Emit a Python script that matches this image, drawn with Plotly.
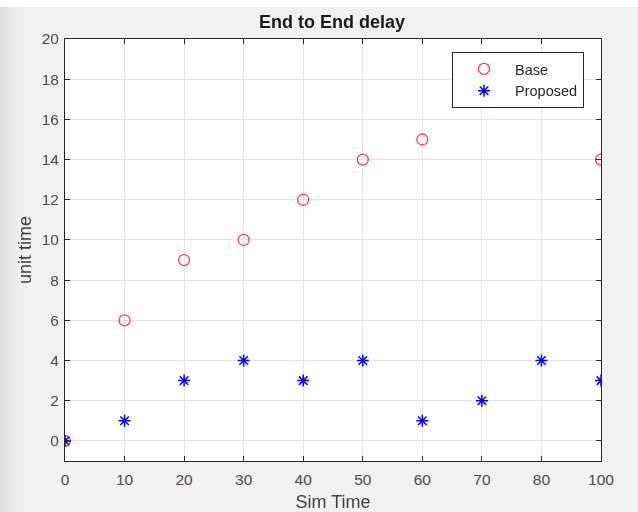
import plotly.graph_objects as go

# ---- data ----
sim_time = ["0", "10", "20", "30", "40", "50", "60", "70", "80", "100"]
base = [0, 6, 9, 10, 12, 14, 15, 17, 18, 14]
proposed = [0, 1, 3, 4, 3, 4, 1, 2, 4, 3]
y_ticks = [0, 2, 4, 6, 8, 10, 12, 14, 16, 18, 20]

FONT = "Liberation Sans, Arial, Helvetica, sans-serif"
L, R, T, B = 65, 37, 39, 51
W, H = 638, 512
pw, ph = W - L - R, H - T - B

fig = go.Figure()
fig.add_trace(go.Scatter(
    x=sim_time, y=base, mode="markers", name="Base",
    marker=dict(symbol="circle-open", size=11, color="#ff0000",
                line=dict(width=1.3, color="#ff0000")),
    opacity=0.75,
))
fig.add_trace(go.Scatter(
    x=sim_time, y=proposed, mode="markers", name="Proposed",
    marker=dict(symbol="asterisk-open", size=10, color="#0000ff",
                line=dict(width=1.5, color="#0000ff")),
))

axis_common = dict(
    showline=True, linecolor="#262626", linewidth=1, mirror="ticks",
    ticks="inside", ticklen=5, tickcolor="#262626",
    showgrid=True, gridcolor="#e3e3e3", gridwidth=1,
    zeroline=False, automargin=False,
    tickfont=dict(family=FONT, size=15.5, color="#4a4a4a"),
)

fig.update_xaxes(type="category", categoryorder="array", categoryarray=sim_time,
                 range=[0, len(sim_time) - 1], ticklabelstandoff=4,
                 title=dict(text="Sim Time", font=dict(family=FONT, size=18, color="#404040"),
                            standoff=13),
                 **axis_common)
fig.update_yaxes(range=[-1, 20], tickvals=y_ticks, ticklabelstandoff=2,
                 title=dict(text="unit time", font=dict(family=FONT, size=18, color="#404040"),
                            standoff=5),
                 **axis_common)

def px_x(p):
    return (p - L) / pw

def px_y(p):
    return (H - B - p) / ph

shapes = []
# white strip at top
shapes.append(dict(type="rect", xref="paper", yref="paper",
                   x0=px_x(0), x1=px_x(W), y0=px_y(7), y1=px_y(0),
                   fillcolor="white", line=dict(width=0), layer="below"))
# left gradient
grays = ["#dcdcdc", "#e0e0e0", "#e4e4e4", "#e7e7e7", "#eaeaea", "#ececec", "#eeeeee", "#efefef"]
for i, g in enumerate(grays):
    shapes.append(dict(type="rect", xref="paper", yref="paper",
                       x0=px_x(i * 3), x1=px_x(i * 3 + 3), y0=px_y(H), y1=px_y(7),
                       fillcolor=g, line=dict(width=0), layer="below"))
fig.update_layout(shapes=shapes)

fig.update_layout(
    width=W, height=H,
    margin=dict(l=L, r=R, t=T, b=B, autoexpand=False),
    paper_bgcolor="#f0f0f0",
    plot_bgcolor="white",
    title=dict(text="<b>End to End delay</b>", x=px_x(332), xanchor="center",
               xref="paper", y=1 - 22 / H, yanchor="middle",
               font=dict(family=FONT, size=18, color="#1a1a1a")),
    legend=dict(x=px_x(452), y=px_y(52), xanchor="left", yanchor="top",
                bgcolor="white", bordercolor="#262626", borderwidth=1,
                font=dict(family=FONT, size=14.5, color="#262626"),
                itemwidth=52, tracegroupgap=0),
    showlegend=True,
)

fig.write_html("out.html", config={"displayModeBar": False},
               post_script="document.body.style.margin='0px';")
